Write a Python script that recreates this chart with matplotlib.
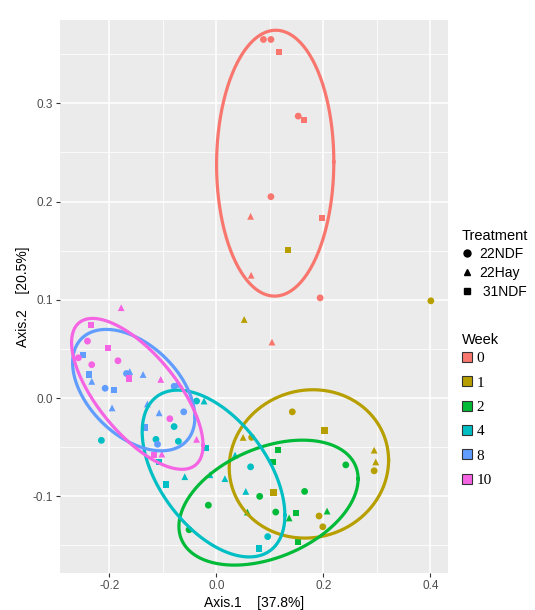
import matplotlib
matplotlib.use("Agg")
import matplotlib.pyplot as plt
from matplotlib.lines import Line2D
from matplotlib.patches import Patch
import numpy as np

plt.rcParams["font.family"] = ["Liberation Sans", "DejaVu Sans"]

# PCoA scores
week = ([0] * 11 + [1] * 13 + [2] * 13 + [4] * 17 + [8] * 16 + [10] * 13)
axis1 = [0.088, 0.102, 0.117, 0.153, 0.164, 0.102, 0.064, 0.197, 0.065, 0.194, 0.104,
         0.134, 0.052, 0.401, 0.142, 0.202, 0.050, 0.066, 0.295, 0.298, 0.295, 0.107, 0.192, 0.199,
         0.115, 0.106, 0.242, 0.081, 0.165, 0.058, 0.111, 0.136, 0.149, 0.207, 0.152, -0.015, -0.051,
         -0.037, -0.023, -0.079, -0.113, -0.071, -0.020, -0.107, -0.059, -0.012, 0.016, -0.094, 0.064,
         0.035, 0.055, 0.096, 0.080, -0.215,
         -0.250, -0.238, -0.233, -0.208, -0.191, -0.195, -0.168, -0.162, -0.137, -0.079, -0.074,
         -0.129, -0.107, -0.061, -0.134, -0.110,
         -0.178, -0.235, -0.241, -0.202, -0.258, -0.184, -0.233, -0.164, -0.104, -0.087, -0.037,
         -0.117, -0.102]
axis2 = [0.365, 0.365, 0.352, 0.287, 0.283, 0.205, 0.185, 0.183, 0.125, 0.102, 0.057,
         0.151, 0.080, 0.099, -0.014, -0.033, -0.040, -0.040, -0.053, -0.065, -0.074, -0.096, -0.120, -0.131,
         -0.053, -0.065, -0.068, -0.100, -0.095, -0.116, -0.116, -0.122, -0.117, -0.115, -0.146, -0.109, -0.134,
         -0.003, -0.003, -0.029, -0.042, -0.044, -0.051, -0.065, -0.080, -0.078, -0.082, -0.088, -0.070,
         -0.058, -0.095, -0.141, -0.153, -0.043,
         0.044, 0.024, 0.017, 0.010, 0.008, -0.010, 0.025, 0.027, 0.024, 0.012, 0.014,
         -0.006, -0.015, -0.014, -0.030, -0.047,
         0.092, 0.074, 0.058, 0.051, 0.041, 0.038, 0.034, 0.020, 0.019, -0.021, -0.042,
         -0.058, -0.057]
# c = 22NDF, t = 22Hay, s = 31NDF
treatment = (["c", "c", "s", "c", "s", "c", "t", "s", "t", "c", "t"]
             + ["s", "t", "c", "c", "s", "t", "c", "t", "t", "c", "s", "c", "c"]
             + ["s", "s", "c", "c", "c", "t", "c", "t", "s", "t", "s", "c", "c"]
             + ["c", "t", "c", "c", "c", "s", "s", "t", "t", "t", "s", "c", "t", "t", "c", "s", "c"]
             + ["s", "s", "t", "c", "s", "t", "c", "t", "t", "c", "t", "t", "t", "c", "s", "c"]
             + ["t", "s", "c", "s", "c", "c", "c", "s", "t", "c", "t", "s", "t"])

weeks = [0, 1, 2, 4, 8, 10]
week_colors = ["#F8766D", "#B79F00", "#00BA38", "#00BFC4", "#619CFF", "#F564E3"]
trt_codes = ["c", "t", "s"]
trt_names = ["22NDF", "22Hay", " 31NDF"]
trt_markers = ["o", "^", "s"]

# 95% ellipses: centre, half extents, correlation
ell_cx = [0.110, 0.173, 0.0975, -0.0053, -0.1545, -0.1478]
ell_cy = [0.2391, -0.067, -0.1064, -0.0768, 0.0081, 0.0043]
ell_ax = [0.1096, 0.149, 0.1675, 0.1334, 0.1143, 0.1229]
ell_ay = [0.1353, 0.0755, 0.0636, 0.0849, 0.0618, 0.0768]
ell_rho = [0.01, 0.05, 0.38, -0.50, -0.45, -0.68]

fig = plt.figure(figsize=(5.35, 6.1), dpi=100)
ax = fig.add_axes([0.112, 0.0607, 0.725, 0.906])
ax.set_facecolor("#EBEBEB")
for s in ax.spines.values():
    s.set_visible(False)

ax.set_xlim(-0.2925, 0.4327)
ax.set_ylim(-0.178, 0.3845)
ax.set_xticks([-0.2, 0.0, 0.2, 0.4])
ax.set_xticklabels(["-0.2", "0.0", "0.2", "0.4"])
ax.set_yticks([-0.1, 0.0, 0.1, 0.2, 0.3])
ax.set_yticklabels(["-0.1", "0.0", "0.1", "0.2", "0.3"])
ax.set_xticks([-0.1, 0.1, 0.3], minor=True)
ax.set_yticks([-0.15, -0.05, 0.05, 0.15, 0.25, 0.35], minor=True)
ax.grid(which="major", color="white", lw=1.1)
ax.grid(which="minor", color="white", lw=0.55)
ax.set_axisbelow(True)
ax.tick_params(which="major", length=3, width=0.8, color="#333333",
               labelsize=8.5, labelcolor="#4D4D4D", pad=2)
ax.tick_params(which="minor", length=0)

wk = np.array(week)
tr = np.array(treatment)
x = np.array(axis1)
y = np.array(axis2)
for w, col in zip(weeks, week_colors):
    for code, mk in zip(trt_codes, trt_markers):
        m = (wk == w) & (tr == code)
        ax.scatter(x[m], y[m], marker=mk, s=24 if mk != "s" else 20,
                   color=col, edgecolors="none", zorder=3)

t = np.linspace(0, 2 * np.pi, 300)
for i, col in enumerate(week_colors):
    phi = np.arccos(ell_rho[i])
    ex = ell_cx[i] + ell_ax[i] * np.cos(t)
    ey = ell_cy[i] + ell_ay[i] * np.cos(t - phi)
    ax.plot(ex, ey, color=col, lw=2.3, zorder=4)

ax.set_xlabel("Axis.1    [37.8%]", fontsize=10, color="black", labelpad=3)
ax.set_ylabel("Axis.2    [20.5%]", fontsize=10, color="black", labelpad=2)

# legends
fig.text(0.8636, 1 - 236 / 610, "Treatment", fontsize=10.5, va="center", ha="left")
h1 = [Line2D([], [], marker=mk, color="black", ls="none", markersize=5)
      for mk in trt_markers]
leg1 = fig.legend(h1, trt_names, loc="upper left",
                  bbox_to_anchor=(0.862, 1 - 247 / 610), frameon=False,
                  fontsize=10, handlelength=0.8, borderpad=0,
                  handletextpad=0.5, labelspacing=0.36, borderaxespad=0)

fig.text(0.8636, 1 - 340 / 610, "Week", fontsize=10.5, va="center", ha="left")
h2 = [Patch(facecolor=c, edgecolor="#333333", lw=0.8) for c in week_colors]
leg2 = fig.legend(h2, [str(w) for w in weeks], loc="upper left",
                  bbox_to_anchor=(0.864, 1 - 352 / 610), frameon=False,
                  fontsize=11, handlelength=0.62, borderpad=0,
                  handleheight=0.62, handletextpad=0.3, labelspacing=0.72,
                  borderaxespad=0)
for txt in leg2.get_texts():
    txt.set_fontfamily("Liberation Serif")

fig.savefig("out.png", dpi=100)
